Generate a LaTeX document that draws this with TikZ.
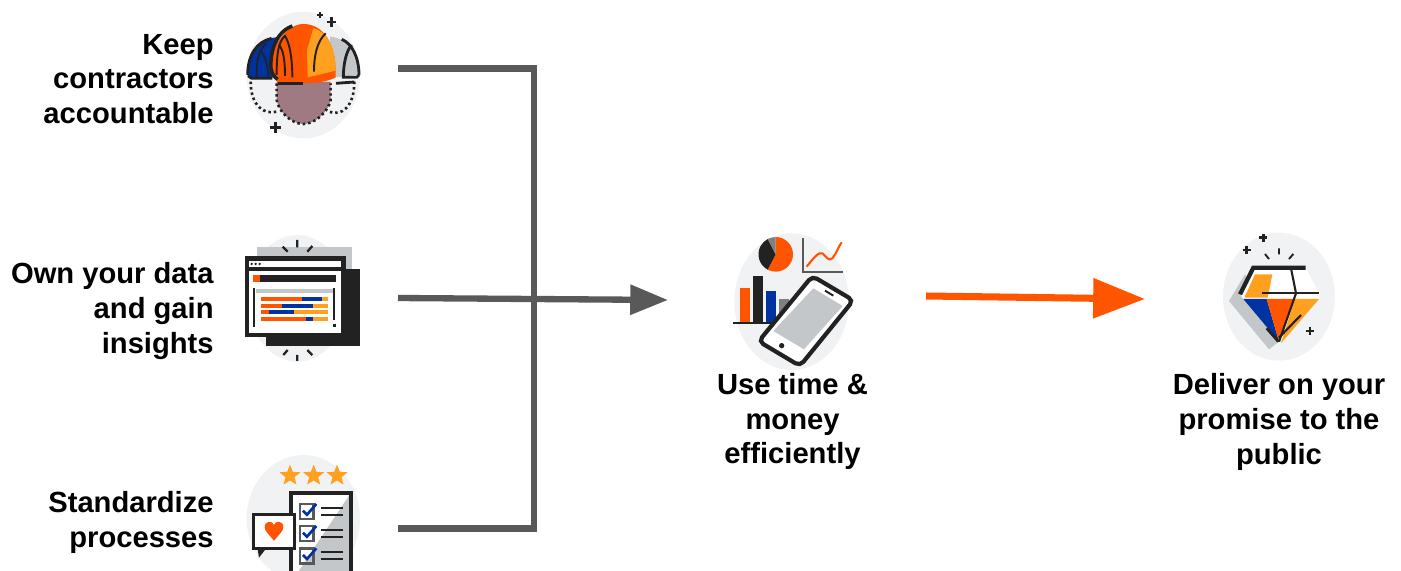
\documentclass[tikz,border=0pt]{standalone}
\usepackage{fontspec}
\setmainfont{Liberation Sans}
\usetikzlibrary{arrows.meta,shapes.geometric}
\definecolor{halo}{HTML}{F1F2F4}
\definecolor{ink}{HTML}{222222}
\definecolor{wire}{HTML}{595959}
\definecolor{fire}{HTML}{FF5500}
\definecolor{amber}{HTML}{FFA01E}
\definecolor{navy}{HTML}{0033A0}
\definecolor{ash}{HTML}{C4C7CA}
\definecolor{mauve}{HTML}{A07A82}
\tikzset{
  notetext/.style={font=\bfseries\fontsize{16.6pt}{19.85pt}\selectfont,inner sep=0pt},
  wireline/.style={draw=wire,line width=3.6pt},
  icon/.style={x=0.02cm/3,y=-0.02cm/3},
  dotline/.style={ink,line width=1.5pt,dash pattern=on 1.4pt off 1.7pt},
  ratingstar/.style={star,star points=5,star point ratio=2.3,fill=amber,inner sep=0pt,minimum size=0.44cm}
}
\newcommand{\crossmark}[3]{\draw[ink,line width=1.5pt] (#1-#3,#2) -- (#1+#3,#2) (#1,#2-#3) -- (#1,#2+#3);}
\begin{document}
\begin{tikzpicture}[x=0.02cm,y=-0.02cm]
 \useasboundingbox (0,0) rectangle (1401,571);
 % helmets
 \begin{scope}[shift={(235,0)},icon]
  \fill[halo] (205,225) ellipse (170 and 190);
  \fill[navy] (38,225) .. controls (38,150) and (80,112) .. (130,112) -- (125,232) -- (38,232) -- cycle;
  \fill[ash] (285,110) .. controls (340,115) and (372,160) .. (372,225) -- (300,232) -- (285,232) -- cycle;
  \draw[ink,line width=1.6pt] (38,225) .. controls (38,165) and (65,125) .. (110,115);
  \draw[ink,line width=1.6pt] (372,225) .. controls (372,170) and (350,130) .. (320,118);
  \draw[ink,line width=1.6pt] (40,228) -- (50,235) -- (112,235) (303,250) -- (358,246) (372,225) -- (365,232) -- (325,232) .. controls (325,190) and (335,150) .. (350,135);
  \draw[ink,line width=1pt] (65,232) .. controls (65,180) and (70,150) .. (95,130);
  \draw[ink,line width=1pt] (100,232) .. controls (100,190) and (85,160) .. (75,150);
  \draw[dotline] (47,245) .. controls (47,320) and (90,345) .. (125,335);
  \draw[dotline] (358,245) .. controls (358,320) and (320,350) .. (282,335);
  \fill[mauve] (125,245) -- (287,245) -- (287,300) .. controls (280,335) and (240,372) .. (205,372) .. controls (170,372) and (130,335) .. (125,300) -- cycle;
  \draw[dotline] (125,250) -- (125,300) .. controls (130,335) and (170,372) .. (205,372) .. controls (240,372) and (280,335) .. (287,300) -- (287,250);
  \fill[fire] (108,205) .. controls (105,130) and (160,72) .. (205,72) .. controls (265,72) and (302,130) .. (302,215) -- (302,232) .. controls (280,245) and (240,250) .. (205,250) -- (130,250) -- (112,225) -- cycle;
  \fill[amber] (235,85) .. controls (280,95) and (302,150) .. (302,212) -- (218,232) -- (216,150) -- cycle;
  \draw[ink,line width=2pt] (172,78) .. controls (125,95) and (105,150) .. (108,205) .. controls (110,220) and (118,232) .. (128,238);
  \draw[ink,line width=2pt] (130,250) -- (205,250);
  \draw[ink,line width=1.1pt] (125,225) .. controls (125,160) and (130,125) .. (150,108) .. controls (165,130) and (172,180) .. (172,232);
  \draw[ink,line width=1.1pt] (150,228) .. controls (150,180) and (145,150) .. (132,135);
  \draw[ink,line width=1.1pt] (237,215) .. controls (237,170) and (245,125) .. (272,100);
  \crossmark{290}{66}{14}
  \crossmark{122}{383}{17}
  \draw[ink,line width=1pt] (245,46) -- (263,46) (254,37) -- (254,55);
 \end{scope}
 % browser window
 \begin{scope}[shift={(235,230)},icon]
  \fill[halo] (187,205) ellipse (150 and 190);
  \fill[ash] (67,52) rectangle (350,280);
  \fill[ink] (92,118) rectangle (375,348);
  \fill[ink] (30,78) rectangle (332,320);
  \fill[white] (42,92) rectangle (318,112);
  \fill[white] (42,122) rectangle (318,308);
  \foreach \x in {50,62,74}
   \fill[ink] (\x,102) circle (4);
  \fill[ink] (55,135) rectangle (302,156);
  \fill[fire] (55,135) rectangle (75,156);
  \fill[ash] (62,177) rectangle (294,190);
  \draw[ink,line width=1pt] (58,175) -- (58,290) (298,175) -- (298,270);
  \fill[ink] (295,282) rectangle (302,290);
  \foreach \y/\a/\b in {207/200/262,227/142/233,247/101/177,267/213/234} {
   \fill[fire] (77,\y-6) rectangle (\a,\y+6);
   \fill[navy] (\a,\y-6) rectangle (\b,\y+6);
   \fill[amber] (\b,\y-6) rectangle (279,\y+6);
  };
  \draw[ink,line width=1.3pt] (187,30) -- (187,52) (143,50) -- (158,65) (232,48) -- (217,65);
  \draw[ink,line width=1.3pt] (187,375) -- (187,393) (145,375) -- (158,360) (232,375) -- (217,360);
 \end{scope}
 % checklist
 \begin{scope}[shift={(235,450)},icon]
  \clip (-10,-10) rectangle (400,363);
  \fill[halo] (205,205) ellipse (170 and 190);
  \foreach \x in {165,236,306}
   \node[ratingstar] (star\x) at (\x,77) {};
  \fill[white] (165,127) rectangle (350,380);
  \fill[ash] (343,135) -- (343,380) -- (180,380) -- cycle;
  \draw[ink,line width=2.2pt] (168,380) -- (168,129) -- (349,129) -- (349,380);
  \fill[white] (55,193) rectangle (178,295);
  \draw[ink,line width=1.6pt] (55,193) rectangle (178,295);
  \fill[ink] (68,297) -- (92,297) -- (72,323) -- cycle;
  \fill[fire] (117,272) .. controls (100,252) and (89,242) .. (89,232) .. controls (89,212) and (112,210) .. (117,225) .. controls (122,210) and (145,212) .. (145,232) .. controls (145,242) and (134,252) .. (117,272) -- cycle;
  \foreach \y in {162,228,295} {
   \draw[wire,line width=1.4pt] (195,\y) rectangle (235,\y+45);
   \draw[navy,line width=1.5pt] (204,\y+20) -- (216,\y+32) -- (244,\y);
   \draw[ink,line width=1.2pt] (258,\y+11) -- (325,\y+11) (258,\y+32) -- (325,\y+32);
  };
 \end{scope}
 % charts and phone
 \begin{scope}[shift={(725,225)},icon]
  \fill[halo] (200,230) ellipse (172 and 205);
  \fill[fire] (152,88) -- (152,36) arc (-90:118:52) -- cycle;
  \fill[ink] (152,88) -- (128,134) arc (118:243:52) -- cycle;
  \fill[gray] (152,88) -- (128,42) arc (243:270:52) -- cycle;
  \draw[wire,line width=1.2pt] (235,40) -- (235,140) -- (355,140);
  \draw[fire,line width=1.2pt] (245,125) .. controls (265,100) and (280,80) .. (292,85) .. controls (305,95) and (310,110) .. (322,100) .. controls (335,85) and (340,65) .. (350,52);
  \fill[fire] (45,188) rectangle (75,292);
  \fill[ink] (84,152) rectangle (114,292);
  \fill[navy] (123,198) rectangle (153,292);
  \fill[gray] (163,222) rectangle (192,292);
  \draw[ink,line width=1.3pt] (25,293) -- (210,293);
  \filldraw[fill=white,draw=ink,line width=2.4pt,rounded corners=3pt] (262,153) -- (385,226) -- (225,423) -- (101,349) -- cycle;
  \fill[ash] (265,190) -- (353,243) -- (237,373) -- (145,318) -- cycle;
  \draw[ink,line width=1.1pt] (300,197) -- (325,212);
  \fill[ink] (170,362) circle (8);
 \end{scope}
 % diamond
 \begin{scope}[shift={(1215,225)},icon]
  \fill[halo] (192,215) ellipse (168 and 192);
  \fill[ash] (90,148) -- (42,228) -- (162,373) -- (198,345) -- cycle;
  \fill[white] (115,128) -- (272,128) -- (312,205) -- (312,222) -- (85,222) -- (75,208) -- cycle;
  \fill[amber] (120,148) -- (172,148) -- (158,218) -- (88,218) -- cycle;
  \fill[navy] (85,222) -- (155,222) -- (192,350) -- cycle;
  \fill[fire] (155,222) -- (240,222) -- (192,350) -- cycle;
  \fill[amber] (240,222) -- (312,222) -- (198,355) -- cycle;
  \draw[ink,line width=2.4pt] (75,208) -- (115,128) -- (272,128);
  \draw[ink,line width=1.2pt] (140,203) -- (312,203);
  \draw[ink,line width=1.2pt] (228,130) -- (243,205) -- (192,350);
  \draw[ink,line width=1.2pt] (192,338) -- (258,270);
  \draw[ink,line width=1.5pt] (155,310) -- (190,350);
  \crossmark{145}{38}{12}
  \crossmark{95}{75}{12}
  \crossmark{285}{318}{12}
  \draw[ink,line width=1.1pt] (192,70) -- (192,88) (150,87) -- (162,102) (235,87) -- (222,102);
 \end{scope}
 % texts
 \node[notetext,anchor=east,align=right] (keep) at (214,79) {Keep\\contractors\\accountable};
 \node[notetext,anchor=east,align=right] (own) at (214,311) {Own your data\\and gain\\insights};
 \node[notetext,anchor=east,align=right] (standard) at (214,522.5) {Standardize\\processes};
 \node[notetext,align=center] (usetime) at (792.5,421.5) {Use time \&\\money\\efficiently};
 \node[notetext,align=center] (deliver) at (1279,422) {Deliver on your\\promise to the\\public};
 % connectors
 \coordinate (keepout) at (398,68.5);
 \coordinate (ownout) at (398,298);
 \coordinate (standardout) at (398,528.5);
 \coordinate (bend) at (534,68.5);
 \coordinate (bendlow) at (534,528.5);
 \coordinate (usein) at (668,300);
 \coordinate (useout) at (926,296);
 \coordinate (deliverin) at (1145,299);
 \draw[wireline] (keepout) -- (bend) -- (bendlow) -- (standardout);
 \draw[wireline,-{Triangle[length=21.5pt,width=16.5pt]}] (ownout) -- (usein);
 \draw[draw=fire,line width=4pt,-{Triangle[length=29.5pt,width=22pt]}] (useout) -- (deliverin);
\end{tikzpicture}
\end{document}
